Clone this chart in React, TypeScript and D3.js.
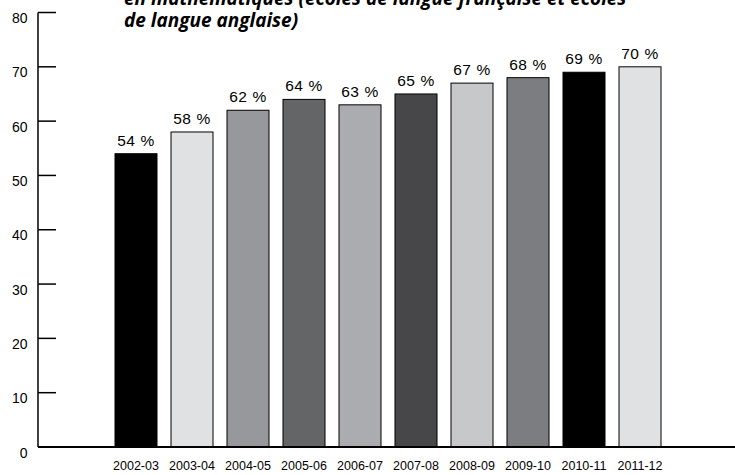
import React from 'react'
import * as d3 from 'd3'

const years = ['2002-03', '2003-04', '2004-05', '2005-06', '2006-07', '2007-08', '2008-09', '2009-10', '2010-11', '2011-12']
const values = [54, 58, 62, 64, 63, 65, 67, 68, 69, 70]
const barColors = ['#000000', '#e0e1e3', '#97989b', '#646567', '#abacaf', '#474749', '#c7c8ca', '#7c7d80', '#000000', '#e0e1e3']
const yTicks = [0, 10, 20, 30, 40, 50, 60, 70, 80]
const titleLines = ['en mathématiques (écoles de langue française et écoles', 'de langue anglaise)']

const width = 735
const height = 475

export default function App() {
  const x = d3.scaleBand<string>().domain(years).range([108, 668]).paddingInner(0.25).paddingOuter(0.125)
  const y = d3.scaleLinear().domain([0, 80]).range([447, 12.5])
  const axisX = 38

  return <div style={{ position: 'absolute', left: 0, top: 0 }}>
    <svg width={width} height={height} style={{ display: 'block', background: 'white' }}>
      {/* title, first line is cut off by the top edge like in the source */}
      <g fontFamily="'Open Sans', Lato, sans-serif" fontWeight="bold" fontStyle="italic" fontSize={19} fill="#000">
        {titleLines.map((t, i) => <text key={i} x={124} y={5 + i * 22}>{t}</text>)}
      </g>

      {/* bars */}
      {years.map((yr, i) => {
        const v = values[i]
        const cx = x(yr)! + x.bandwidth() / 2
        return <g key={yr}>
          <rect x={x(yr)} y={y(v)} width={x.bandwidth()} height={y(0) - y(v)}
                fill={barColors[i]} stroke="#000" strokeWidth={1} />
          <text x={cx} y={y(v) - 8} textAnchor="middle"
                fontFamily="'Liberation Sans', Arial, sans-serif" fontSize={15.5} letterSpacing={0.6}>{v} %</text>
          <text x={cx} y={470} textAnchor="middle"
                fontFamily="'Liberation Sans', Arial, sans-serif" fontSize={12.5}>{yr}</text>
        </g>
      })}

      {/* y axis */}
      <line x1={axisX} x2={axisX} y1={y(80)} y2={y(0)} stroke="#000" strokeWidth={1.5} />
      {yTicks.map(t => <g key={t}>
        <line x1={axisX} x2={56} y1={y(t)} y2={y(t)} stroke="#000" strokeWidth={1.5} />
        <text x={27.5} y={y(t) + 10.5} textAnchor="end"
              fontFamily="'Liberation Sans', Arial, sans-serif" fontSize={14}>{t}</text>
      </g>)}

      {/* baseline */}
      <line x1={axisX} x2={width} y1={y(0)} y2={y(0)} stroke="#000" strokeWidth={2} />
    </svg>
  </div>
}
